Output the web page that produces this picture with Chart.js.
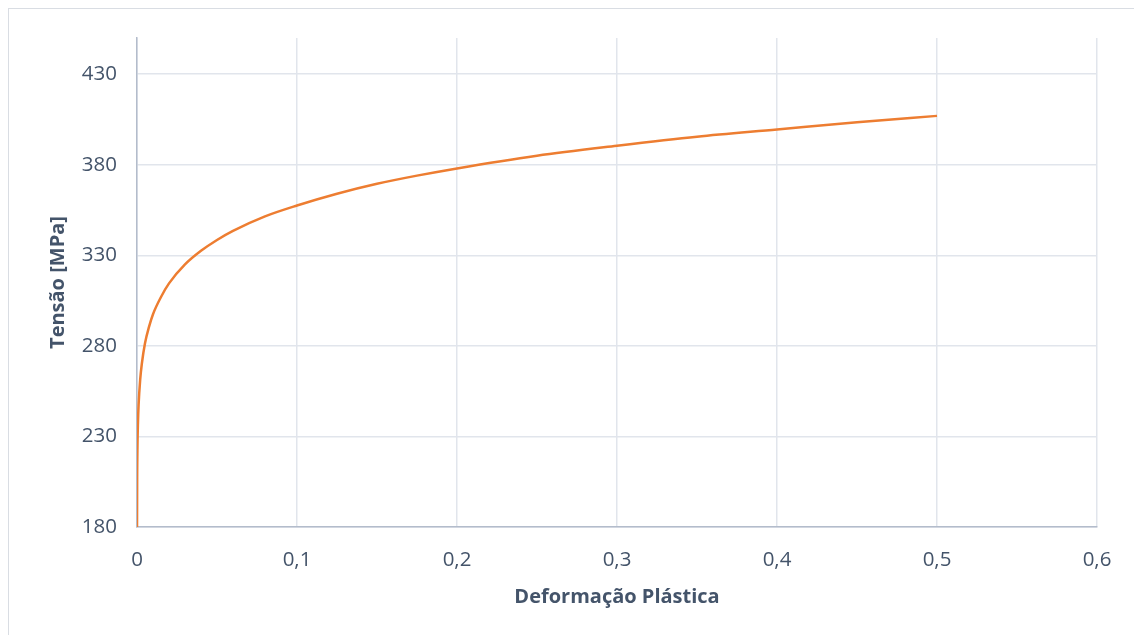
<!DOCTYPE html>
<html>
<head>
<meta charset="utf-8">
<script src="https://cdn.jsdelivr.net/npm/chart.js@4"></script>
<style>
  body { margin: 0; background: #fff; }
  #frame { position: absolute; left: 8px; top: 8px; width: 1140px; height: 640px; border: 1px solid #d9dde3; }
  #wrap { position: absolute; left: 0; top: 0; width: 1134px; height: 635px; }
</style>
</head>
<body>
<div id="frame"></div>
<div id="wrap"><canvas id="myChart" width="1134" height="635"></canvas></div>
<script>
// strain / stress values
const strain = [0, 0.00002, 0.0001, 0.0003, 0.0006, 0.001, 0.002, 0.003, 0.005, 0.0075,
                0.01, 0.015, 0.02, 0.03, 0.04, 0.05, 0.06, 0.08, 0.1, 0.125,
                0.15, 0.175, 0.2, 0.25, 0.3, 0.35, 0.4, 0.45, 0.5];
const stress = [180, 181, 206, 225, 237.5, 247.5, 261.5, 270, 281.5, 290.5,
                297.5, 307, 314.5, 325, 332.5, 338.5, 343.5, 351.5, 357.5, 364,
                369.5, 374, 378, 385, 390.5, 395.5, 399.5, 403.5, 407];

const xTicks = [0, 0.1, 0.2, 0.3, 0.4, 0.5, 0.6];
const yTicks = [180, 230, 280, 330, 380, 430];

const textColor = '#44546a';
const gridColor = '#e1e5ec';
const axisColor = '#b3bccb';

const points = strain.map((x, i) => ({x: x, y: stress[i]}));

const ctx = document.getElementById('myChart');
const myChart = new Chart(ctx, {
    type: 'line',
    data: {
        datasets: [{
            label: 'Tensão',
            data: points,
            borderColor: '#ed7d31',
            borderWidth: 2.5,
            pointRadius: 0,
            fill: false,
            cubicInterpolationMode: 'monotone'
        }]
    },
    options: {
        responsive: false,
        animation: false,
        layout: {
            padding: {top: 38, right: 37, left: 0, bottom: 0}
        },
        scales: {
            x: {
                type: 'linear',
                min: 0,
                max: 0.6,
                afterBuildTicks: (scale) => { scale.ticks = xTicks.map(v => ({value: v})); },
                afterFit: (scale) => { scale.height = 108; },
                grid: { color: gridColor, lineWidth: 1.5, drawTicks: false },
                border: { color: axisColor, width: 1.5 },
                ticks: {
                    color: textColor,
                    padding: 21,
                    maxRotation: 0,
                    font: { family: 'Open Sans', size: 20.5 },
                    callback: (v) => String(v).replace('.', ',')
                },
                title: {
                    display: true,
                    text: 'Deformação Plástica',
                    color: textColor,
                    font: { family: 'Open Sans', size: 20, weight: 'bold' },
                    padding: { top: 0, bottom: 26 }
                }
            },
            y: {
                min: 180,
                max: 450,
                afterBuildTicks: (scale) => { scale.ticks = yTicks.map(v => ({value: v})); },
                afterFit: (scale) => { scale.width = 137; },
                grid: { color: gridColor, lineWidth: 1.5, drawTicks: false },
                border: { color: axisColor, width: 1.5 },
                ticks: {
                    color: textColor,
                    padding: 20,
                    font: { family: 'Open Sans', size: 20.5 }
                },
                title: {
                    display: true,
                    text: 'Tensão [MPa]',
                    color: textColor,
                    font: { family: 'Open Sans', size: 20, weight: 'bold' },
                    padding: { top: 46, bottom: 0 }
                }
            }
        },
        plugins: {
            legend: { display: false },
            tooltip: { enabled: false }
        }
    }
});
</script>
</body>
</html>
